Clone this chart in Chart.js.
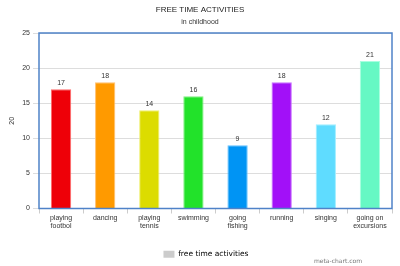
<!DOCTYPE html>
<html><head><meta charset="utf-8">
<script src="https://cdn.jsdelivr.net/npm/chart.js@4"></script>
<style>html,body{margin:0;padding:0;background:#fff}#wrap{width:400px;height:266px}</style>
</head><body><div id="wrap"><canvas id="c"></canvas></div>
<script>
const categories = [["playing","footbol"],"dancing",["playing","tennis"],"swimming",["going","fishing"],"running","singing",["going on","excursions"]];
const values = [17, 18, 14, 16, 9, 18, 12, 21];
const barColors = ["#ee0008","#ff9a00","#dcdc00","#22e22a","#0094f4","#a210f8","#5fdcff","#66f8c4"];
const barBorders = ["#ff6a6a","#ffc070","#f0f070","#80f080","#60c0ff","#c870ff","#a0eeff","#a8ffe0"];
const yTicks = [0,5,10,15,20,25];
const seriesName = "free time activities";
const FONT = "'Liberation Sans', Arial, sans-serif";

const deco = {
  id:'deco',
  afterLayout(chart){
    if (chart.legend) { chart.legend.left += 6; chart.legend.right += 6; chart.legend.top += 2; chart.legend.bottom += 2; }
  },
  afterDraw(chart){
    const {ctx, chartArea:a} = chart;
    ctx.save();
    ctx.strokeStyle = '#4f82c8';
    ctx.lineWidth = 1.5;
    ctx.strokeRect(a.left, a.top, a.right-a.left, a.bottom-a.top);
    const meta = chart.getDatasetMeta(0);
    ctx.fillStyle = '#333';
    ctx.font = "7px " + FONT;
    ctx.textAlign = 'center';
    ctx.textBaseline = 'bottom';
    meta.data.forEach((b,i)=>{ ctx.fillText(String(values[i]), b.x, b.y - 3); });
    ctx.fillStyle = '#777';
    ctx.font = "6px 'DejaVu Sans', sans-serif";
    ctx.textAlign = 'right';
    ctx.textBaseline = 'middle';
    ctx.fillText('meta-chart.com', 362, 261);
    ctx.restore();
  }
};

new Chart(document.getElementById('c'), {
  type:'bar',
  data:{ labels: categories, datasets:[{ label: seriesName, data: values, backgroundColor: barColors, borderColor: barBorders, borderWidth: 1, categoryPercentage: 1, barPercentage: 0.46 }]},
  options:{
    responsive:true, maintainAspectRatio:false, animation:false,
    layout:{ padding:{ left:8, right:8, top:0, bottom:0 } },
    plugins:{
      title:{ display:true, text:'FREE TIME ACTIVITIES', color:'#222', font:{family:FONT, size:8, weight:'normal'}, padding:{top:5,bottom:3} },
      subtitle:{ display:true, text:'in childhood', color:'#333', font:{family:FONT, size:7}, padding:{top:0,bottom:7} },
      legend:{ position:'bottom', labels:{ color:'#444', font:{family:"'DejaVu Sans', sans-serif", size:7.5}, boxWidth:11, boxHeight:7, padding:4,
        generateLabels(){ return [{text: seriesName, fillStyle:'#cccccc', strokeStyle:'#cccccc', lineWidth:0, hidden:false, datasetIndex:0}]; } } },
      tooltip:{ enabled:false }
    },
    scales:{
      x:{ offset:true, grid:{ offset:true, drawOnChartArea:false, drawTicks:true, tickLength:5, color:'#ccc' }, border:{display:false},
          ticks:{ color:'#333', font:{family:FONT, size:7}, maxRotation:0, autoSkip:false, padding:0 },
          afterFit(s){ s.height = 36; } },
      y:{ min:0, max:25, grid:{ color:'#dddddd', tickLength:6, drawTicks:true }, border:{display:false},
          ticks:{ stepSize:5, color:'#333', font:{family:FONT, size:7}, padding:3 },
          title:{ display:true, text:'20', color:'#333', font:{family:FONT, size:7}, padding:{top:0,bottom:4} },
          afterFit(s){ s.width = 31; } }
    }
  },
  plugins:[deco]
});
</script></body></html>
